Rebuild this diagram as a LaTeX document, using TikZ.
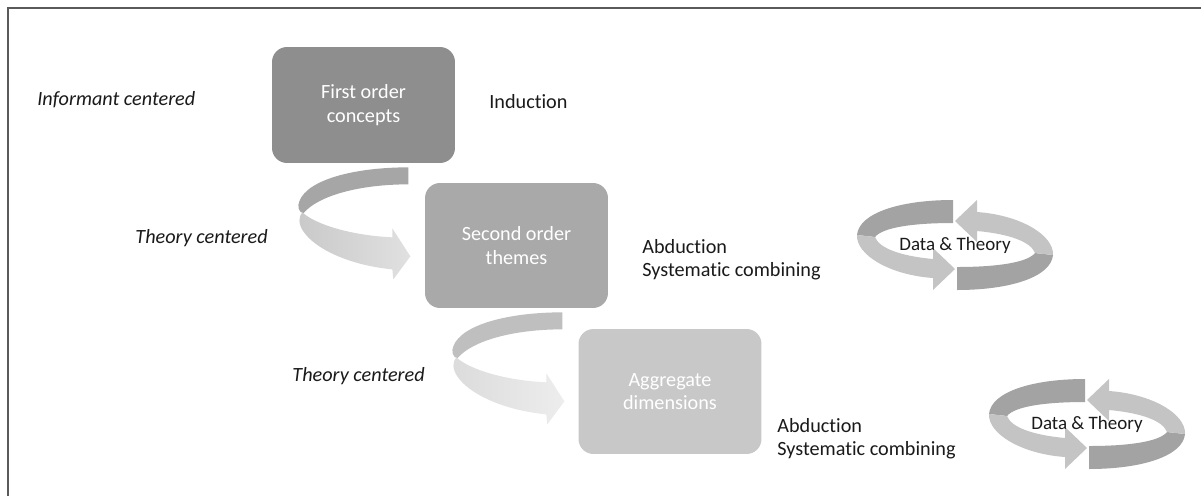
\documentclass[tikz,border=0pt]{standalone}
\usepackage{fontspec}
\setmainfont{Carlito}[Ligatures=NoCommon,RawFeature={-liga;-clig;-calt}]
\usetikzlibrary{calc}
\definecolor{boxA}{HTML}{8E8E8E}
\definecolor{boxB}{HTML}{A9A9A9}
\definecolor{boxC}{HTML}{C8C8C8}
\definecolor{txt}{HTML}{1A1A1A}
\definecolor{frm}{HTML}{5A5A5A}
\definecolor{ringdark}{HTML}{A3A3A3}
\definecolor{ringlight}{HTML}{C4C4C4}
\newcommand\drawuarrow[4]{%
  \begin{scope}[shift={#1}]
    \fill[#2] (0,0) -- (0,17) .. controls (-48,17) and (-90,28) .. (-105,46)
      .. controls (-110,45) and (-111,38) .. (-109,34)
      .. controls (-101,12) and (-53,0) .. (0,0) -- cycle;
    \shade[left color=#3, right color=#4] (-106,45) .. controls (-93,57) and (-58,68) .. (-16,70)
      -- (-16,61) -- (2,89) -- (-15,112) -- (-16,102)
      .. controls (-58,98) and (-93,82) .. (-105,64)
      .. controls (-110,57) and (-110,49) .. (-106,45) -- cycle;
  \end{scope}}
\newcommand\ringhalf{%
  \fill[ringdark] (-2,-45) -- (-2,-22) .. controls (-40,-22) and (-72,-18) .. (-80,-8)
    -- (-98,-10) .. controls (-96,-32) and (-55,-45) .. (-2,-45) -- cycle;
  \fill[ringlight] (-98,-10) .. controls (-99,10) and (-65,30) .. (-22,33)
    -- (-22,45) -- (0,24) -- (-22,3) -- (-22,14)
    .. controls (-55,11) and (-76,3) .. (-80,-8) -- cycle;}
\newcommand\drawring[1]{%
  \begin{scope}[shift={#1}]\ringhalf\end{scope}
  \begin{scope}[shift={#1},rotate=180]\ringhalf\end{scope}}
\begin{document}
\begin{tikzpicture}[x=0.02cm,y=-0.02cm,
  box/.style={rounded corners=0.3cm, minimum width=3.66cm, minimum height=2.5cm,
    text=white, align=center, inner sep=0pt, font=\fontsize{11.5}{13.5}\selectfont},
  lbl/.style={inner sep=0pt, text=txt, font=\fontsize{11.5}{13.5}\selectfont},
  ilbl/.style={inner sep=0pt, text=txt, font=\fontsize{11.5}{13.5}\selectfont\itshape},
  ringtext/.style={inner sep=0pt, text=txt, font=\fontsize{10.8}{12}\selectfont},
]
\useasboundingbox (0,0) rectangle (1201,495);
\clip (0,0) rectangle (1201,495);
\fill[white] (0,0) rectangle (1201,495);
\draw[frm, line width=1.1pt] (8,8) rectangle (1240,530);

% boxes
\node[box, fill=boxA, minimum height=2.32cm] (b1) at (363.5,105) {First order\\concepts};
\node[box, fill=boxB] (b2) at (516.5,245.5) {Second order\\themes};
\node[box, fill=boxC] (b3) at (670,391.5) {Aggregate\\dimensions};

% curved arrows between boxes
\coordinate (u1) at ($(b1.south east)+(-47,4)$);
\coordinate (u2) at ($(b2.south east)+(-46,4)$);
\drawuarrow{(u1)}{black!35}{black!21}{black!12}
\drawuarrow{(u2)}{black!25}{black!14}{black!7}

% labels
\node[ilbl, anchor=base west] (inf) at (37,105) {Informant centered};
\node[lbl, anchor=base west] (ind) at (489,108) {Induction};
\node[ilbl, anchor=base east] (th1) at (268,243) {Theory centered};
\node[ilbl, anchor=base east] (th2) at (425,381) {Theory centered};
\node[lbl, anchor=base west] (ab1) at (642,253) {Abduction};
\node[lbl, anchor=base west] (sc1) at (642,276) {Systematic combining};
\node[lbl, anchor=base west] (ab2) at (777,432) {Abduction};
\node[lbl, anchor=base west] (sc2) at (777,455) {Systematic combining};

% data & theory cycles
\coordinate (r1) at (955,245);
\coordinate (r2) at (1087,424);
\drawring{(r1)}
\drawring{(r2)}
\node[ringtext] (dt1) at (r1) {Data \& Theory};
\node[ringtext] (dt2) at (r2) {Data \& Theory};
\end{tikzpicture}
\end{document}
